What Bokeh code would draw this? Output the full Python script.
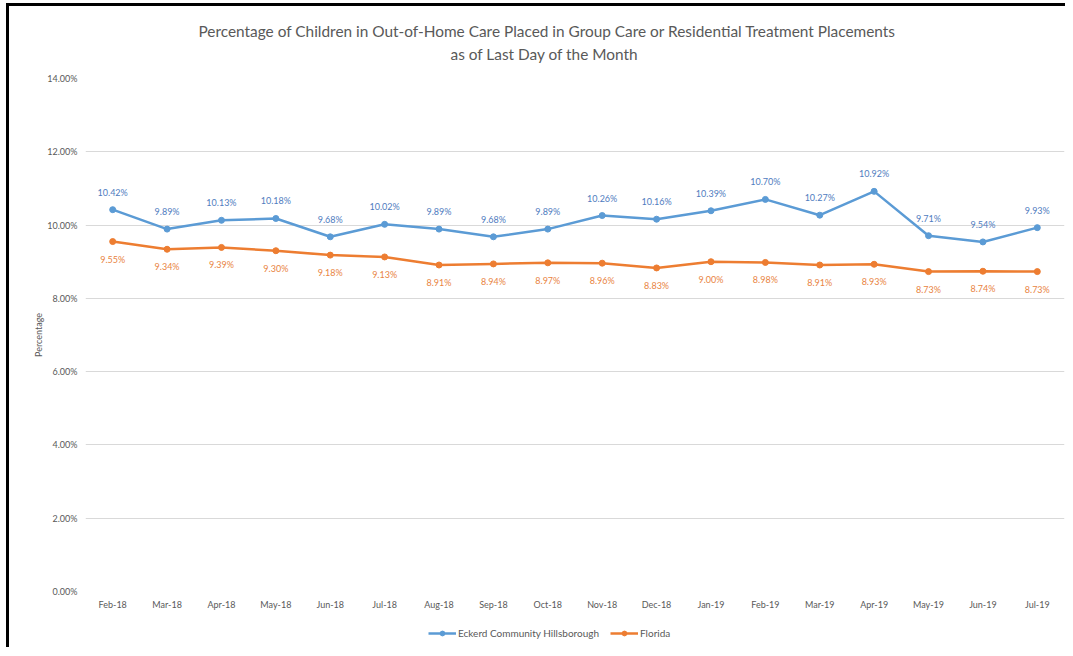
from bokeh.plotting import figure
from bokeh.layouts import column
from bokeh.models import (ColumnDataSource, FactorRange, Range1d, FixedTicker, PrintfTickFormatter,
                          Title, LabelSet, Legend, LegendItem)
from bokeh.core.properties import value
from bokeh.embed import file_html
from bokeh.resources import INLINE

months = ["Feb-18", "Mar-18", "Apr-18", "May-18", "Jun-18", "Jul-18", "Aug-18", "Sep-18", "Oct-18",
          "Nov-18", "Dec-18", "Jan-19", "Feb-19", "Mar-19", "Apr-19", "May-19", "Jun-19", "Jul-19"]
eckerd = [10.42, 9.89, 10.13, 10.18, 9.68, 10.02, 9.89, 9.68, 9.89,
          10.26, 10.16, 10.39, 10.70, 10.27, 10.92, 9.71, 9.54, 9.93]
florida = [9.55, 9.34, 9.39, 9.30, 9.18, 9.13, 8.91, 8.94, 8.97,
           8.96, 8.83, 9.00, 8.98, 8.91, 8.93, 8.73, 8.74, 8.73]
y_ticks = [0, 2, 4, 6, 8, 10, 12, 14]
series_names = ["Eckerd Community Hillsborough", "Florida"]

FONT = "Lato"
BLUE = "#5B9BD5"
ORANGE = "#ED7D31"
BLUE_TXT = "#4F7CC0"
ORANGE_TXT = "#E9843F"
GRAY = "#595959"

src = ColumnDataSource(dict(
    x=months, e=eckerd, f=florida,
    el=[f"{v:.2f}%" for v in eckerd],
    fl=[f"{v:.2f}%" for v in florida],
))

p = figure(x_range=FactorRange(*months), y_range=Range1d(0, 14),
           frame_width=979, frame_height=513, output_backend="svg", toolbar_location=None,
           title=None, min_border_left=76, min_border_right=1,
           min_border_top=72, min_border_bottom=28)
p.outline_line_color = None

t2 = Title(text="as of Last Day of the Month", align="left", offset=365,
           text_font=FONT, text_font_size="15.4px", text_font_style="normal",
           text_color=GRAY, standoff=32)
t1 = Title(text="Percentage of Children in Out-of-Home Care Placed in Group Care or Residential Treatment Placements",
           align="left", offset=113, text_font=FONT, text_font_size="15.4px",
           text_font_style="normal", text_color=GRAY, standoff=-26)
p.add_layout(t2, "above")
p.add_layout(t1, "above")

l1 = p.line("x", "e", source=src, line_color=BLUE, line_width=2.5)
s1 = p.scatter("x", "e", source=src, size=6, fill_color=BLUE, line_color=BLUE)
l2 = p.line("x", "f", source=src, line_color=ORANGE, line_width=2.5)
s2 = p.scatter("x", "f", source=src, size=6, fill_color=ORANGE, line_color=ORANGE)

lab1 = LabelSet(x="x", y="e", text="el", source=src, y_offset=12, text_align="center",
                text_baseline="bottom", text_font=value(FONT), text_font_size="9px",
                text_color=BLUE_TXT)
lab2 = LabelSet(x="x", y="f", text="fl", source=src, y_offset=-12, text_align="center",
                text_baseline="top", text_font=value(FONT), text_font_size="9px",
                text_color=ORANGE_TXT)
p.add_layout(lab1)
p.add_layout(lab2)

p.yaxis.ticker = FixedTicker(ticks=y_ticks)
p.yaxis.formatter = PrintfTickFormatter(format="%.2f%%")
p.yaxis.axis_label = "Percentage"
p.yaxis.axis_label_text_font = FONT
p.yaxis.axis_label_text_font_size = "9px"
p.yaxis.axis_label_text_font_style = "normal"
p.yaxis.axis_label_text_color = GRAY
p.yaxis.axis_label_standoff = 0

for ax in (p.xaxis, p.yaxis):
    ax.axis_line_color = None
    ax.major_tick_line_color = None
    ax.minor_tick_line_color = None
    ax.major_label_text_font = FONT
    ax.major_label_text_font_size = "9px"
    ax.major_label_text_color = GRAY
p.yaxis.major_label_standoff = 2
p.xaxis.major_label_standoff = 1

p.xgrid.grid_line_color = None
p.ygrid.grid_line_color = "#D9D9D9"
p.ygrid.grid_line_width = 1

# Legend strip below the chart (legend glyph renderers sit outside the visible range)
pl = figure(width=1056, height=28, x_range=Range1d(0, 1), y_range=Range1d(0, 1),
            min_border=0, x_axis_location=None, y_axis_location=None,
            toolbar_location=None, output_backend="svg", title=None)
pl.outline_line_color = None
pl.grid.visible = False
ll1 = pl.line(x=[-10, -9], y=[-10, -10], line_color=BLUE, line_width=2.5)
ls1 = pl.scatter(x=[-10], y=[-10], size=6, fill_color=BLUE, line_color=BLUE)
ll2 = pl.line(x=[-10, -9], y=[-10, -10], line_color=ORANGE, line_width=2.5)
ls2 = pl.scatter(x=[-10], y=[-10], size=6, fill_color=ORANGE, line_color=ORANGE)

legend = Legend(items=[
    LegendItem(label=series_names[0], renderers=[ll1, ls1]),
    LegendItem(label=series_names[1], renderers=[ll2, ls2]),
], orientation="horizontal", location=(343, 8),
    label_text_font=FONT, label_text_font_size="10px", label_text_color=GRAY,
    glyph_width=28, glyph_height=12, label_height=12, spacing=11, padding=4, margin=0,
    border_line_color=None, background_fill_alpha=0, label_standoff=2)
pl.add_layout(legend, "center")

page = column(p, pl, spacing=0,
              styles={"border-left": "3px solid black", "border-top": "3px solid black",
                      "margin-left": "6px", "margin-top": "3px"})

open("out.html", "w").write(file_html(page, INLINE))
